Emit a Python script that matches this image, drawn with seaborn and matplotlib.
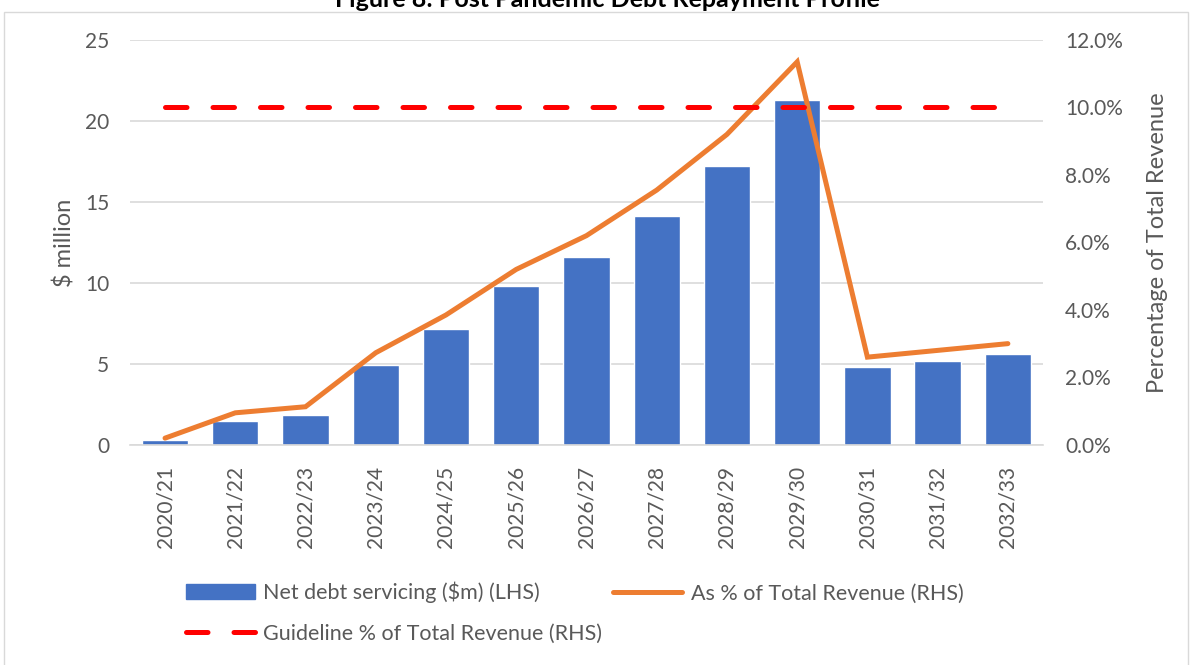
import numpy as np
import pandas as pd
import matplotlib
matplotlib.use('Agg')
import matplotlib.pyplot as plt
import matplotlib.patches as mpatches
from matplotlib.lines import Line2D
from matplotlib.ticker import PercentFormatter
import seaborn as sns

# 数据
years = ['2020/21', '2021/22', '2022/23', '2023/24', '2024/25', '2025/26', '2026/27',
         '2027/28', '2028/29', '2029/30', '2030/31', '2031/32', '2032/33']
debt_servicing = [0.3, 1.5, 1.85, 4.95, 7.15, 9.8, 11.6, 14.1, 17.2, 21.3, 4.8, 5.2, 5.6]
pct_revenue = [0.2, 0.95, 1.13, 2.73, 3.85, 5.2, 6.2, 7.55, 9.2, 11.35, 2.6, 2.8, 3.0]
guideline_pct = [10.0] * len(years)

df = pd.DataFrame({'year': years, 'debt': debt_servicing,
                   'pct': pct_revenue, 'guide': guideline_pct})
df['pos'] = np.arange(len(df))

sns.set_style('white')
plt.rcParams['font.family'] = ['Lato', 'DejaVu Sans']
text_col = '#595959'

fig = plt.figure(figsize=(11.92, 6.65), dpi=100)
ax = fig.add_axes([0.109, 0.331, 0.766, 0.609])

blue = '#4472C4'
orange = '#ED7D31'
sns.barplot(data=df, x='year', y='debt', color=blue, width=0.66,
            saturation=1, ax=ax, zorder=2)
ax.set_ylim(0, 25)
ax.set_xlim(-0.5, len(years) - 0.5)
ax.set_yticks([0, 5, 10, 15, 20, 25])
ax.grid(axis='y', color='#d9d9d9', lw=1.2, zorder=0)
ax.set_axisbelow(True)
for s in ['top', 'right', 'left']:
    ax.spines[s].set_visible(False)
ax.spines['bottom'].set_color('#d9d9d9')
ax.spines['bottom'].set_linewidth(1.2)
ax.tick_params(axis='y', length=0, labelsize=15, colors=text_col, pad=15)
ax.tick_params(axis='x', length=0, labelsize=15, colors=text_col, pad=15, rotation=90)
ax.set_xlabel('')
ax.set_ylabel('$ million', fontsize=17, color=text_col, labelpad=7)

ax2 = ax.twinx()
sns.lineplot(data=df, x='pos', y='pct', color=orange, lw=3.6, ax=ax2,
             solid_joinstyle='miter', solid_capstyle='round')
sns.lineplot(data=df, x='pos', y='guide', color='#FF0000', lw=3.6, ax=ax2,
             linestyle=(0, (4.3, 5.2)), dash_capstyle='round')
ax2.set_ylim(0, 12)
ax2.set_xlim(-0.5, len(years) - 0.5)
ax2.set_yticks([0, 2, 4, 6, 8, 10, 12])
ax2.yaxis.set_major_formatter(PercentFormatter(decimals=1))
for s in ['top', 'right', 'left', 'bottom']:
    ax2.spines[s].set_visible(False)
ax2.tick_params(axis='y', length=0, labelsize=15, colors=text_col, pad=16)
ax2.set_ylabel('Percentage of Total Revenue', fontsize=17, color=text_col, labelpad=17)

handles = [mpatches.Patch(color=blue),
           Line2D([], [], color='#FF0000', lw=3.6, linestyle=(0, (4.3, 5.2)), dash_capstyle='round'),
           Line2D([], [], color=orange, lw=3.6, solid_capstyle='round')]
labels = ['Net debt servicing ($m) (LHS)', 'Guideline % of Total Revenue (RHS)',
          'As % of Total Revenue (RHS)']
fig.legend(handles, labels, ncol=2, loc='upper left', bbox_to_anchor=(0.156, 0.125),
           frameon=False, fontsize=15.5, labelcolor=text_col, handlelength=3.2,
           columnspacing=0.5, handletextpad=0.4, labelspacing=0.95,
           borderaxespad=0, borderpad=0)

fig.text(0.51, 1 - 7 / 665, 'Figure 8: Post Pandemic Debt Repayment Profile',
         ha='center', va='baseline', fontsize=18, fontweight='bold', color='black')
fig.patches.append(mpatches.Rectangle((4 / 1192, -0.01), 1184 / 1192, 1 - 12 / 665 + 0.01,
                                      transform=fig.transFigure, fill=False,
                                      edgecolor='#d9d9d9', lw=1))

fig.savefig('out.png', dpi=100)
